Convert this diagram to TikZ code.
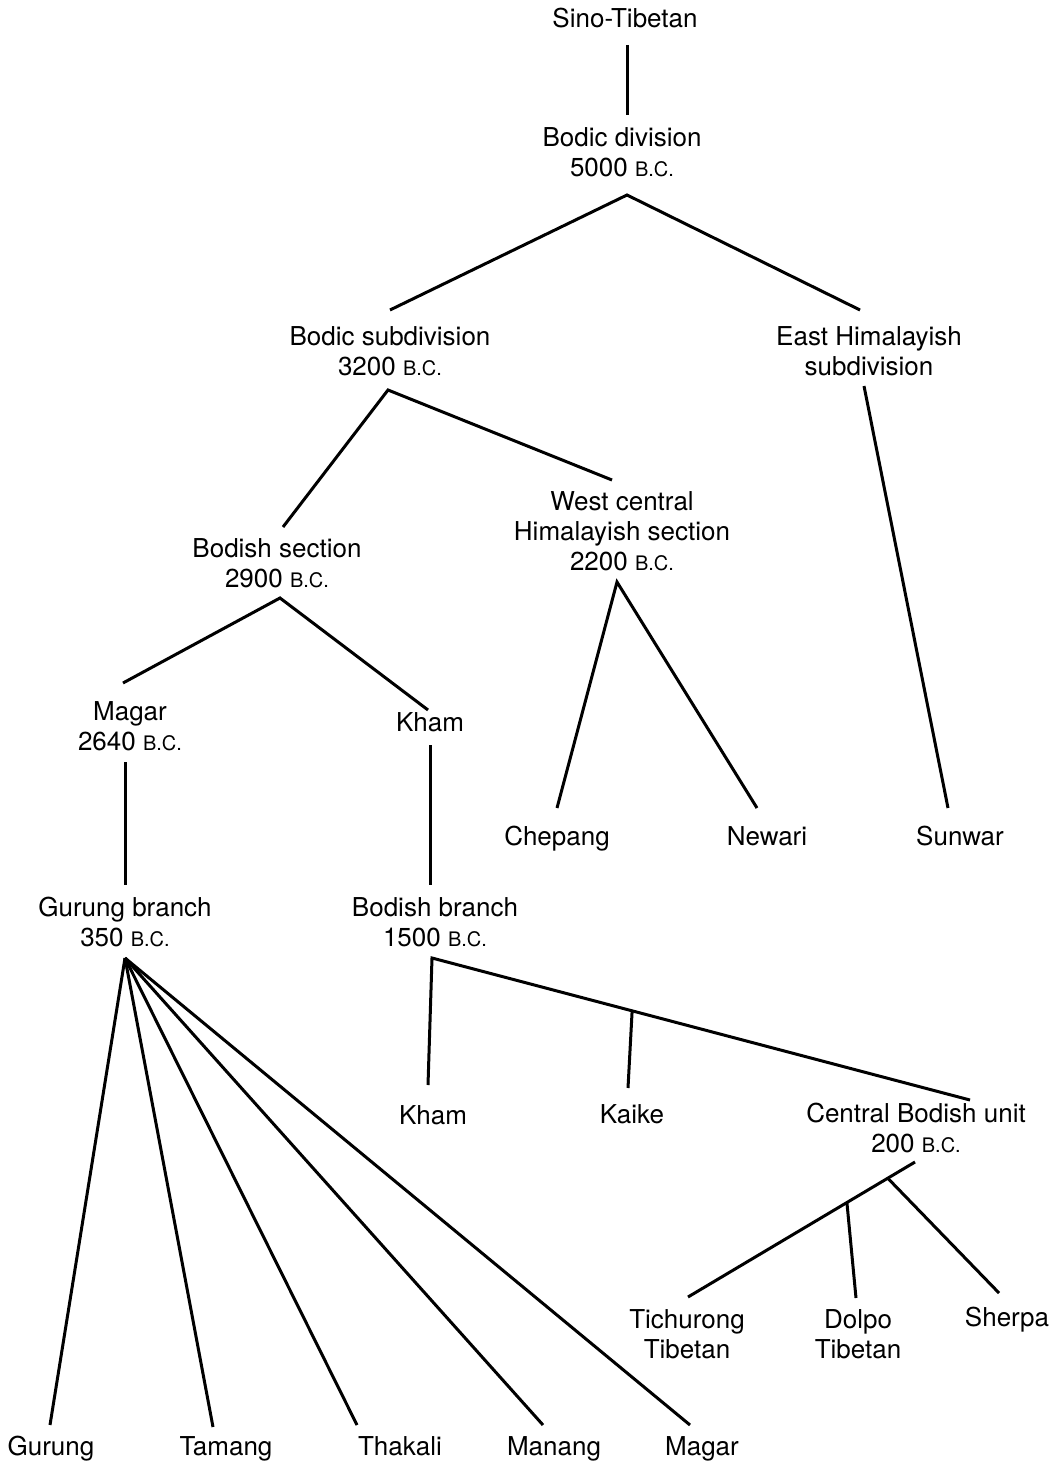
\documentclass[tikz,border=0pt]{standalone}
\usepackage{fontspec}
\setmainfont{TeX Gyre Heros}
\usetikzlibrary{calc}
\newcommand{\bcText}{{\fontsize{20}{20}\selectfont B.C.}}

\begin{document}
\begin{tikzpicture}[x=1pt, y=-1pt, every node/.style={rectangle, align=center, inner sep=0pt}, leafText/.style={text height=19pt, text depth=6pt}, font=\fontsize{26}{30}\selectfont, line width=3pt]
	\useasboundingbox (0,0) rectangle (1063,1463);
	\node[leafText] (sinoTibetan) at (625, 21) {Sino-Tibetan};
	\node[] (bodicDivision) at (622, 152) {Bodic division\\5000 \bcText};
	\node[] (bodicSub) at (390, 351) {Bodic subdivision\\3200 \bcText};
	\node[] (eastHim) at (869, 351) {East Himalayish\\subdivision};
	\node[] (westCentral) at (622, 531) {West central\\Himalayish section\\2200 \bcText};
	\node[] (bodishSection) at (277, 563) {Bodish section\\2900 \bcText};
	\node[] (magarA) at (130, 726) {Magar\\2640 \bcText};
	\node[leafText] (khamA) at (430, 725) {Kham};
	\node[leafText] (chepang) at (557, 839) {Chepang};
	\node[leafText] (newari) at (767, 839) {Newari};
	\node[leafText] (sunwar) at (960, 839) {Sunwar};
	\node[] (gurungBranch) at (125, 922) {Gurung branch\\350 \bcText};
	\node[] (bodishBranch) at (435, 922) {Bodish branch\\1500 \bcText};
	\node[leafText] (khamB) at (433, 1118) {Kham};
	\node[leafText] (kaike) at (632, 1117) {Kaike};
	\node[] (centralBodish) at (916, 1128) {Central Bodish unit\\200 \bcText};
	\node[] (tichurong) at (687, 1334) {Tichurong\\Tibetan};
	\node[] (dolpo) at (858, 1334) {Dolpo\\Tibetan};
	\node[leafText] (sherpa) at (1007, 1320) {Sherpa};
	\node[leafText] (gurung) at (51, 1449) {Gurung};
	\node[leafText] (tamang) at (226, 1449) {Tamang};
	\node[leafText] (thakali) at (400, 1449) {Thakali};
	\node[leafText] (manang) at (554, 1449) {Manang};
	\node[leafText] (magarB) at (702, 1449) {Magar};
	\coordinate (sinoTibetanBot) at (627, 45);
	\coordinate (bodicDivisionTop) at (627, 115);
	\coordinate (bodicDivisionBot) at (627, 195);
	\coordinate (bodicSubTop) at (390, 310);
	\coordinate (bodicSubBot) at (388, 390);
	\coordinate (eastHimTop) at (860, 310);
	\coordinate (eastHimBot) at (864, 386);
	\coordinate (westCentralTop) at (612, 480);
	\coordinate (westCentralBot) at (617, 582);
	\coordinate (bodishSectionTop) at (283, 527);
	\coordinate (bodishSectionBot) at (280, 598);
	\coordinate (magarATop) at (123, 683);
	\coordinate (magarABot) at (125, 762);
	\coordinate (khamATop) at (428, 710);
	\coordinate (khamABot) at (430, 745);
	\coordinate (chepangTop) at (557, 808);
	\coordinate (newariTop) at (757, 808);
	\coordinate (sunwarTop) at (948, 808);
	\coordinate (gurungBranchTop) at (125, 885);
	\coordinate (gurungBranchBot) at (125, 958);
	\coordinate (bodishBranchTop) at (430, 885);
	\coordinate (bodishBranchBot) at (432, 958);
	\coordinate (khamBTop) at (428, 1085);
	\coordinate (kaikeTop) at (628, 1088);
	\coordinate (centralBodishTop) at (970, 1100);
	\coordinate (centralBodishBot) at (915, 1162);
	\coordinate (tichurongTop) at (688, 1297);
	\coordinate (dolpoTop) at (856, 1298);
	\coordinate (sherpaTop) at (999, 1293);
	\coordinate (gurungTop) at (50, 1425);
	\coordinate (tamangTop) at (213, 1427);
	\coordinate (thakaliTop) at (357, 1425);
	\coordinate (manangTop) at (543, 1425);
	\coordinate (magarBTop) at (690, 1425);
	\coordinate (kaikeJoin) at ($(bodishBranchBot)!0.372!(centralBodishTop)$);
	\coordinate (dolpoJoin) at ($(centralBodishBot)!0.3!(tichurongTop)$);
	\coordinate (sherpaJoin) at ($(centralBodishBot)!0.12!(tichurongTop)$);
	\draw (sinoTibetanBot) -- (bodicDivisionTop);
	\draw (bodicSubTop) -- (bodicDivisionBot) -- (eastHimTop);
	\draw (bodishSectionTop) -- (bodicSubBot) -- (westCentralTop);
	\draw (magarATop) -- (bodishSectionBot) -- (khamATop);
	\draw (chepangTop) -- (westCentralBot) -- (newariTop);
	\draw (eastHimBot) -- (sunwarTop);
	\draw (magarABot) -- (gurungBranchTop);
	\draw (khamABot) -- (bodishBranchTop);
	\foreach \leaf in {gurungTop, tamangTop, thakaliTop, manangTop, magarBTop}
		\draw (gurungBranchBot) -- (\leaf);
	\draw (khamBTop) -- (bodishBranchBot) -- (centralBodishTop);
	\draw (kaikeJoin) -- (kaikeTop);
	\draw (centralBodishBot) -- (tichurongTop);
	\draw (dolpoJoin) -- (dolpoTop);
	\draw (sherpaJoin) -- (sherpaTop);
\end{tikzpicture}
\end{document}
